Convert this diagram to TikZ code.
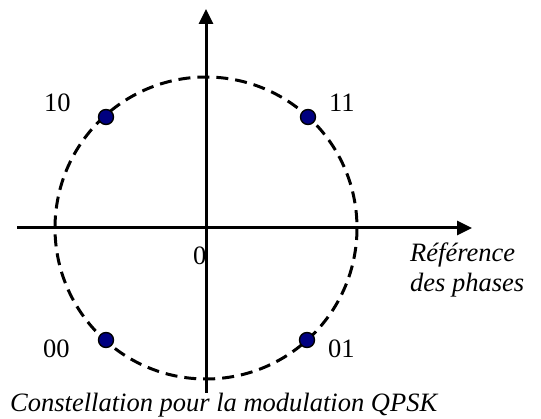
\documentclass[tikz,border=0pt]{standalone}
\usepackage{fontspec}
\setmainfont{Liberation Serif}
\usetikzlibrary{arrows.meta}
\definecolor{dotblue}{RGB}{0,0,128}
\begin{document}
\begin{tikzpicture}[x=1pt,y=-1pt,
  axis/.style={line width=3pt,-{Triangle[length=15pt,width=14pt]}},
  ring/.style={line width=3pt,dash pattern=on 12pt off 7pt},
  pt/.style={circle,draw=black,line width=1.4pt,fill=dotblue,minimum size=15pt,inner sep=0pt},
  lbl/.style={anchor=base west,inner sep=0pt,font=\fontsize{26.5}{30}\selectfont}]
\useasboundingbox (0,0) rectangle (541,419);
\coordinate (O) at (206,228);
\coordinate (xl) at (17,228);
\coordinate (xr) at (472,228);
\coordinate (yb) at (206,393);
\coordinate (yt) at (206,9);
\draw[ring] (O) circle [radius=151];
\draw[axis] (xl) -- (xr);
\draw[axis] (yb) -- (yt);
\node[pt] (p10) at (106,117) {};
\node[pt] (p11) at (308,117) {};
\node[pt] (p00) at (106,340) {};
\node[pt] (p01) at (307,340) {};
\node[lbl] (l10) at (44,112) {10};
\node[lbl] (l11) at (329,112) {11};
\node[lbl] (l00) at (43,358) {00};
\node[lbl] (l01) at (328,358) {01};
\node[lbl] (l0) at (193,265) {0};
\node[lbl] (ref1) at (410,262) {\itshape Référence};
\node[lbl] (ref2) at (410,292) {\itshape des phases};
\node[lbl] (cap) at (10,412) {\itshape Constellation pour la modulation QPSK};
\end{tikzpicture}
\end{document}
